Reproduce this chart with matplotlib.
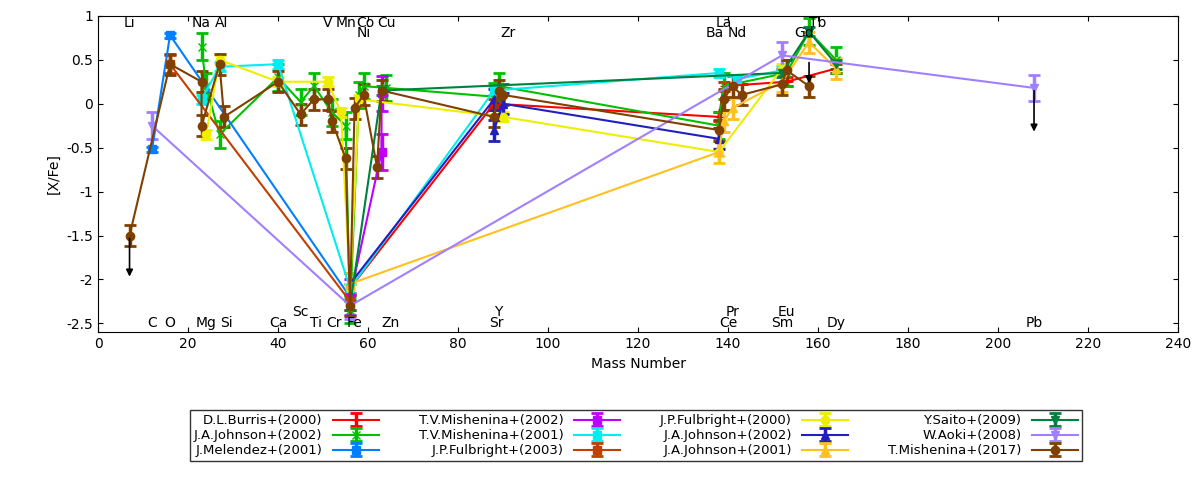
import matplotlib
matplotlib.use("Agg")
import matplotlib.pyplot as plt

plt.rcParams['font.family'] = ['DejaVu Sans']

# element labels: (name, mass, y)
elem_top = [("Li", 7, 0.92), ("Na", 23, 0.92), ("Al", 27.5, 0.92), ("V", 51, 0.92),
            ("Mn", 55, 0.92), ("Co", 59.5, 0.92), ("Cu", 64, 0.92), ("Ni", 59, 0.80),
            ("Zr", 91, 0.80), ("La", 139, 0.92), ("Ba", 137, 0.80), ("Nd", 142, 0.80),
            ("Tb", 160, 0.92), ("Gd", 157, 0.80)]
elem_bot = [("C", 12, -2.5), ("O", 16, -2.5), ("Mg", 24, -2.5), ("Si", 28.5, -2.5),
            ("Ca", 40, -2.5), ("Sc", 45, -2.37), ("Ti", 48.5, -2.5), ("Cr", 52.5, -2.5),
            ("Fe", 57, -2.5), ("Zn", 65, -2.5), ("Y", 89, -2.37), ("Sr", 88.5, -2.5),
            ("Pr", 141, -2.37), ("Ce", 140, -2.5), ("Eu", 153, -2.37), ("Sm", 152, -2.5),
            ("Dy", 164, -2.5), ("Pb", 208, -2.5)]

labels = ["D.L.Burris+(2000)", "J.A.Johnson+(2002)", "J.Melendez+(2001)",
          "T.V.Mishenina+(2002)", "T.V.Mishenina+(2001)", "J.P.Fulbright+(2003)",
          "J.P.Fulbright+(2000)", "J.A.Johnson+(2002)", "J.A.Johnson+(2001)",
          "Y.Saito+(2009)", "W.Aoki+(2008)", "T.Mishenina+(2017)"]

x_burris = [56, 88, 138, 139, 153, 164]
y_burris = [-2.1, 0.0, -0.15, 0.2, 0.25, 0.4]

x_john02 = [23, 24, 27, 40, 45, 48, 52, 55, 56, 58, 59, 64, 88, 89, 138, 139, 153, 158, 164]
y_john02 = [0.65, 0.2, -0.35, 0.3, 0.02, 0.2, -0.1, -0.25, -2.35, 0.1, 0.2, 0.18, 0.08, 0.2, -0.25, 0.2, 0.35, 0.82, 0.5]

x_melen = [12, 16, 56]
y_melen = [-0.52, 0.78, -2.2]

x_mish02 = [56, 63, 63]
y_mish02 = [-2.2, -0.55, 0.12]

x_mish01 = [23, 27, 40, 56, 88, 138, 142, 152]
y_mish01 = [0.05, 0.42, 0.45, -2.1, 0.15, 0.35, 0.28, 0.38]

x_fulb03 = [16, 56]
y_fulb03 = [0.45, -2.25]

x_fulb00 = [24, 27, 40, 51, 54, 56, 58, 90, 138, 152]
y_fulb00 = [-0.35, 0.5, 0.25, 0.25, -0.1, -2.1, 0.05, -0.15, -0.55, 0.4]

x_john02b = [56, 88, 88, 90, 138]
y_john02b = [-2.05, 0.05, -0.3, 0.0, -0.4]

x_john01 = [56, 138, 139, 141, 152, 158, 164]
y_john01 = [-2.05, -0.55, -0.2, -0.05, 0.25, 0.7, 0.4]

x_saito = [56, 63, 152, 158, 164]
y_saito = [-2.3, 0.15, 0.35, 0.82, 0.45]

x_aoki = [12, 56, 152, 208]
y_aoki = [-0.25, -2.3, 0.55, 0.18]

x_mish17 = [7, 16, 23, 23, 27, 28, 40, 45, 48, 51, 52, 55, 56, 57, 59, 62, 63,
            88, 89, 90, 138, 139, 141, 143, 152, 153, 158]
y_mish17 = [-1.5, 0.45, 0.25, -0.25, 0.45, -0.15, 0.25, -0.12, 0.05, 0.05, -0.2, -0.62, -2.3, -0.05, 0.1, -0.72, 0.15,
            -0.15, 0.15, 0.1, -0.3, 0.05, 0.2, 0.1, 0.22, 0.38, 0.2]

xs = [x_burris, x_john02, x_melen, x_mish02, x_mish01, x_fulb03,
      x_fulb00, x_john02b, x_john01, x_saito, x_aoki, x_mish17]
ys = [y_burris, y_john02, y_melen, y_mish02, y_mish01, y_fulb03,
      y_fulb00, y_john02b, y_john01, y_saito, y_aoki, y_mish17]
colors = ["#ff0000", "#00c000", "#0080ff", "#c000ff", "#00eeee", "#c04000",
          "#eeee00", "#2020c0", "#ffc020", "#008040", "#a080ff", "#804000"]
markers = ["+", "x", "s", "s", "s", "s", "o", "^", "^", "v", "v", "o"]
errs = [0.05, 0.15, 0.03, 0.2, 0.05, 0.1, 0.05, 0.12, 0.12, 0.05, 0.15, 0.12]

fig = plt.figure(figsize=(12, 4.8), dpi=100)
ax = fig.add_axes([0.0817, 0.308, 0.9, 0.659])

handles = []
for x, y, c, m, e, lab in zip(xs, ys, colors, markers, errs, labels):
    h = ax.errorbar(x, y, yerr=e, color=c, marker=m, markersize=6, lw=1.5,
                    elinewidth=2.5, capsize=4, capthick=2, label=lab)
    handles.append(h)

# upper limits
for x0, y0, y1 in [(7, -1.5, -2.0), (158, 0.5, 0.2), (208, 0.18, -0.35)]:
    ax.annotate("", xy=(x0, y1), xytext=(x0, y0),
                arrowprops=dict(arrowstyle="-|>", color="black", lw=1.2))

for name, m, yy in elem_top + elem_bot:
    ax.text(m, yy, name, ha="center", va="center", fontsize=10)

ax.set_xlim(0, 240)
ax.set_ylim(-2.6, 1.0)
ax.set_xticks(range(0, 241, 20))
ax.set_yticks([1, 0.5, 0, -0.5, -1, -1.5, -2, -2.5])
ax.set_yticklabels(["1", "0.5", "0", "-0.5", "-1", "-1.5", "-2", "-2.5"])
ax.tick_params(direction="in", top=True, right=True)
ax.set_xlabel("Mass Number")
ax.set_ylabel("[X/Fe]")

fig.legend(handles=handles, loc="center", bbox_to_anchor=(0.53, 0.092), ncol=4,
           markerfirst=False, fancybox=False, edgecolor="black", fontsize=9.5,
           handlelength=3.5, columnspacing=3.0, labelspacing=0.15,
           borderpad=0.3, alignment="right")

fig.savefig("out.png", dpi=100)
